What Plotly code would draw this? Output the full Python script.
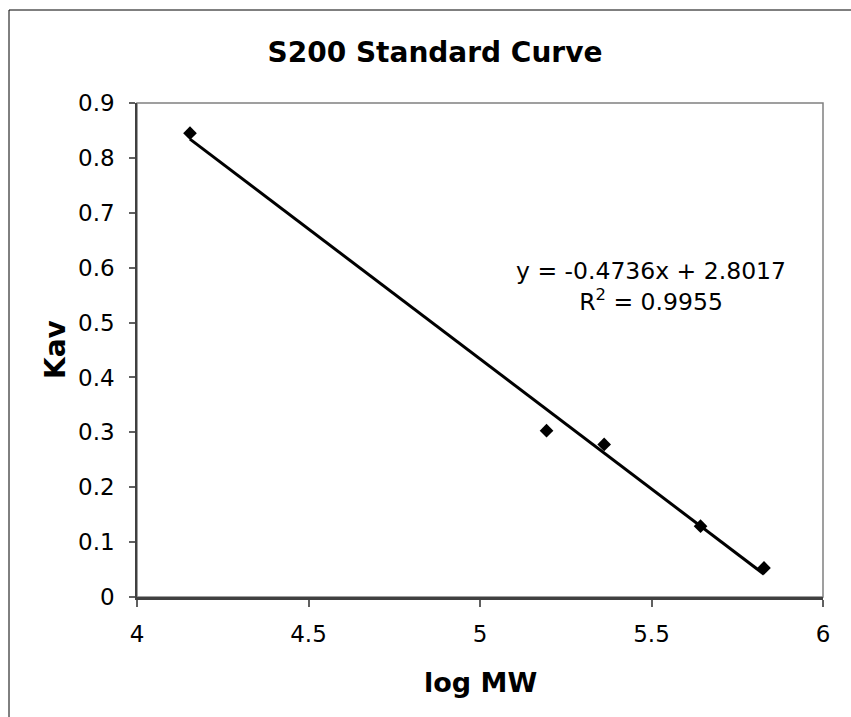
import numpy as np
import plotly.graph_objects as go

# Data
log_mw = [4.1545, 5.194, 5.362, 5.643, 5.828]
kav = [0.845, 0.303, 0.278, 0.129, 0.053]
slope = -0.4736
intercept = 2.8017
r_squared = 0.9955
x_ticks = [4, 4.5, 5, 5.5, 6]
y_ticks = [0, 0.1, 0.2, 0.3, 0.4, 0.5, 0.6, 0.7, 0.8, 0.9]

trend_x = [min(log_mw), max(log_mw)]
trend_y = [slope * v + intercept for v in trend_x]

FONT = "DejaVu Sans, Verdana, sans-serif"

fig = go.Figure()
fig.add_trace(go.Scatter(x=trend_x, y=trend_y, mode="lines",
                         line=dict(color="black", width=3), showlegend=False,
                         hoverinfo="skip"))
fig.add_trace(go.Scatter(x=log_mw, y=kav, mode="markers",
                         marker=dict(symbol="diamond", size=10.5, color="black"),
                         showlegend=False))

fig.update_layout(
    width=851, height=717,
    margin=dict(l=137, r=28, t=103, b=120),
    paper_bgcolor="white", plot_bgcolor="white",
    font=dict(family=FONT, color="black", size=23),
    title=dict(text="<b>S200 Standard Curve</b>", xref="paper", x=0.4344,
               xanchor="center", yref="container", y=1 - 52 / 717, yanchor="middle",
               font=dict(family=FONT, size=28, color="black")),
    xaxis=dict(range=[4, 6], tickvals=x_ticks, ticktext=[f"{v:g}" for v in x_ticks],
               showgrid=False, zeroline=False, showline=True, linecolor="#404040",
               linewidth=2.5, ticks="outside", ticklen=7, tickcolor="#606060",
               tickwidth=1.5, ticklabelstandoff=8, tickfont=dict(size=23)),
    yaxis=dict(range=[0, 0.9], tickvals=y_ticks, ticktext=[f"{v:g}" for v in y_ticks],
               showgrid=False, zeroline=False, showline=True, linecolor="#404040",
               linewidth=1.5, ticks="outside", ticklen=6, tickcolor="#606060",
               tickwidth=1.5, ticklabelstandoff=10, tickfont=dict(size=23)),
    shapes=[
        dict(type="rect", xref="paper", yref="paper", x0=0, x1=1, y0=0, y1=1,
             line=dict(color="#808080", width=1.5), layer="below"),
        dict(type="rect", xref="paper", yref="paper", x0=(9 - 137) / 686,
             x1=(880 - 137) / 686, y0=(597 - 760) / 494, y1=(597 - 10) / 494,
             line=dict(color="black", width=1), layer="below"),
    ],
    annotations=[
        dict(text="<b>log MW</b>", xref="paper", yref="paper", x=0.5,
             y=(597 - 682) / 494, xanchor="center", yanchor="middle",
             showarrow=False, font=dict(size=27)),
        dict(text="<b>Kav</b>", xref="paper", yref="paper", x=(55 - 137) / 686,
             y=0.5, xanchor="center", yanchor="middle", textangle=-90,
             showarrow=False, font=dict(size=28)),
        dict(text=f"y = {slope}x + {intercept}<br>R<sup>2</sup> = {r_squared}",
             xref="paper", yref="paper", x=(651 - 137) / 686, y=(597 - 286) / 494,
             xanchor="center", yanchor="middle", align="center",
             showarrow=False, font=dict(size=23.5)),
    ],
)

fig.write_html("out.html")
